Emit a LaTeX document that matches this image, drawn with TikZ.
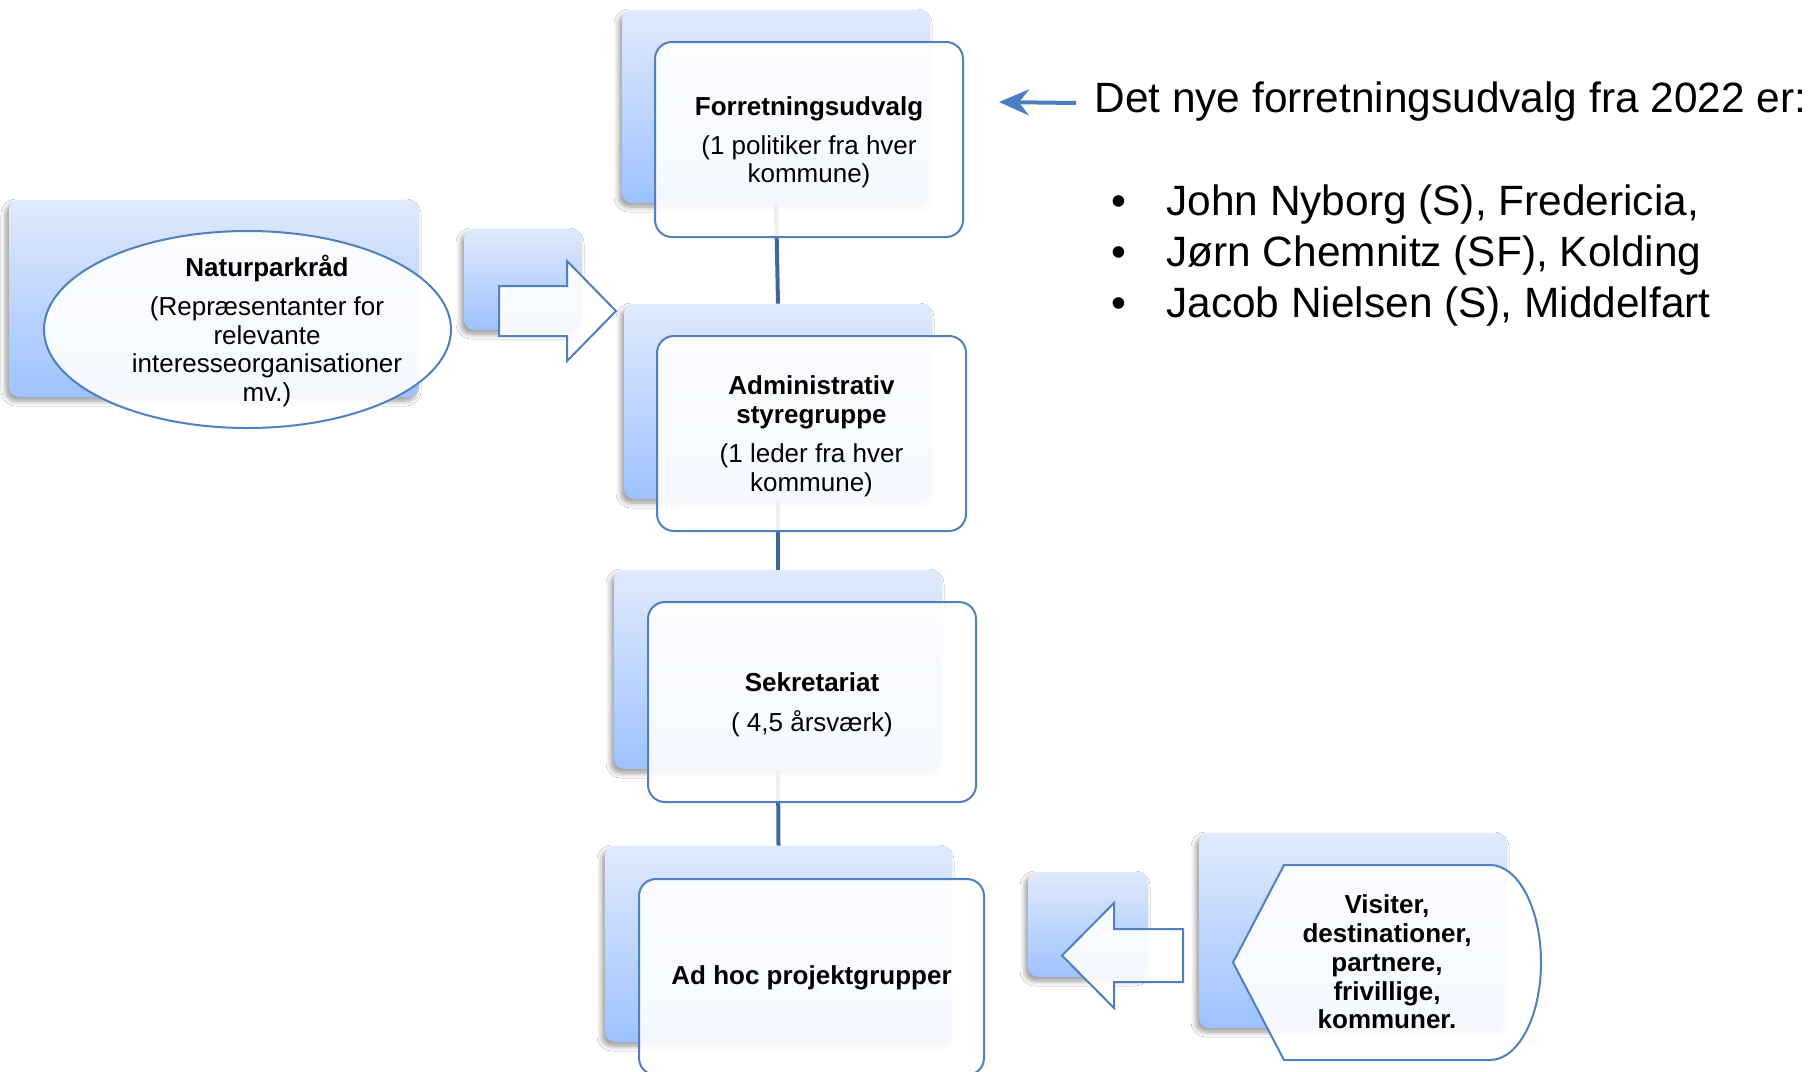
\documentclass[tikz,border=0pt]{standalone}
\usepackage{fontspec}
\setmainfont{Liberation Sans}
\usetikzlibrary{shapes.geometric,shadows.blur,arrows.meta}
\definecolor{bxtop}{RGB}{224,234,252}
\definecolor{bxbot}{RGB}{158,194,255}
\definecolor{bxline}{RGB}{80,128,190}
\definecolor{conn}{RGB}{62,102,160}
\definecolor{arrblue}{RGB}{74,126,192}
\newcommand\mybxfont{\fontsize{13pt}{14.4pt}\selectfont}
\newcommand\mybigfont{\fontsize{21.2pt}{25pt}\selectfont}
\tikzset{
  backbox/.style={rectangle, rounded corners=5pt, top color=bxtop, bottom color=bxbot,
    draw=none, inner sep=0pt,
    blur shadow={shadow xshift=-1.5pt, shadow yshift=-2pt, shadow opacity=40, shadow blur radius=2.5pt, shadow blur steps=6}},
  frontbox/.style={rectangle, rounded corners=8.5pt, draw=bxline, line width=1pt,
    fill=white, fill opacity=0.9, inner sep=0pt},
  shapeline/.style={draw=bxline, line width=1pt, fill=white, fill opacity=0.9},
  conline/.style={draw=conn, line width=2pt},
  txt/.style={align=center, font=\mybxfont, inner sep=0pt},
  bigtxt/.style={font=\mybigfont, inner sep=0pt, anchor=base west}
}
\begin{document}
\begin{tikzpicture}[x=0.5pt,y=-0.5pt]
\fill[white] (0,0) rectangle (1814,1071);
\useasboundingbox (0,0) rectangle (1814,1071);

% back boxes
\node[backbox, minimum width=154pt, minimum height=96.5pt] (fub) at (776,106.5) {};
\node[backbox, minimum width=154pt, minimum height=97.5pt] (asb) at (778,401.5) {};
\node[backbox, minimum width=164pt, minimum height=99.5pt] (skb) at (778,669.5) {};
\node[backbox, minimum width=173.5pt, minimum height=98pt] (ahb) at (778.5,944) {};
\node[backbox, minimum width=205pt, minimum height=98.5pt] (nrb) at (214,298.5) {};
\node[backbox, minimum width=59pt, minimum height=50.5pt] (sq1) at (523,279.5) {};
\node[backbox, minimum width=154pt, minimum height=97.5pt] (vsb) at (1353,930.5) {};
\node[backbox, minimum width=60pt, minimum height=52.5pt] (sq2) at (1088,924.5) {};

% connectors
\draw[conline] (fub.south) -- (asb.north);
\draw[conline] (asb.south) -- (skb.north);
\draw[conline] (skb.south) -- (ahb.north);

% front boxes
\node[frontbox, minimum width=154pt, minimum height=97.5pt] (fu) at (809,139.5) {};
\node[frontbox, minimum width=154.5pt, minimum height=97.5pt] (as) at (811.5,433.5) {};
\node[frontbox, minimum width=164pt, minimum height=100pt] (sk) at (812,702) {};
\node[frontbox, minimum width=172.5pt, minimum height=98pt] (ah) at (811.5,977) {};

\node[txt, yshift=-1.4pt] (fut) at (fu.center)
  {\textbf{Forretningsudvalg}\\[5pt](1 politiker fra hver\\kommune)};
\node[txt, yshift=-1.4pt] (ast) at (as.center)
  {\textbf{Administrativ}\\\textbf{styregruppe}\\[5pt](1 leder fra hver\\kommune)};
\node[txt, yshift=-1.2pt] (skt) at (sk.center)
  {\textbf{Sekretariat}\\[5.5pt]( 4,5 årsværk)};
\node[txt, yshift=-0.5pt] (aht) at (ah.center)
  {\textbf{Ad hoc projektgrupper}};

% Naturparkraad
\node[ellipse, shapeline, minimum width=203.5pt, minimum height=98.5pt, inner sep=0pt] (nr) at (247.5,329.5) {};
\node[txt] (nrt) at (267,331)
  {\textbf{Naturparkråd}\\[5pt](Repræsentanter for\\relevante\\interesseorganisationer\\mv.)};

% block arrows
\draw[shapeline] (499,286) -- (567,286) -- (567,261) -- (616,311) -- (567,361) -- (567,336) -- (499,336) -- cycle;
\draw[shapeline] (1183,929) -- (1114,929) -- (1114,903) -- (1062,955.5) -- (1114,1008) -- (1114,982) -- (1183,982) -- cycle;

% display shape
\draw[shapeline] (1233,962.5) -- (1284,865) -- (1490,865)
  arc[start angle=90, end angle=-90, x radius=25.5pt, y radius=48.75pt] -- (1284,1060) -- cycle;
\node[txt] (vst) at (1387,962)
  {\textbf{Visiter,}\\\textbf{destinationer,}\\\textbf{partnere,}\\\textbf{frivillige,}\\\textbf{kommuner.}};

% right text
\node[bigtxt] (title) at (1094,112) {Det nye forretningsudvalg fra 2022 er:};
\node[bigtxt] (b1) at (1111,215) {\makebox[27.5pt][l]{•}John Nyborg (S), Fredericia,};
\node[bigtxt] (b2) at (1111,266) {\makebox[27.5pt][l]{•}Jørn Chemnitz (SF), Kolding};
\node[bigtxt] (b3) at (1111,317) {\makebox[27.5pt][l]{•}Jacob Nielsen (S), Middelfart};

% small arrow
\coordinate (atail) at (1076,103);
\coordinate (atip) at (999,102);
\draw[arrblue, line width=2pt, -{Stealth[length=15pt, width=13pt, inset=5pt]}] (atail) -- (atip);
\end{tikzpicture}
\end{document}
